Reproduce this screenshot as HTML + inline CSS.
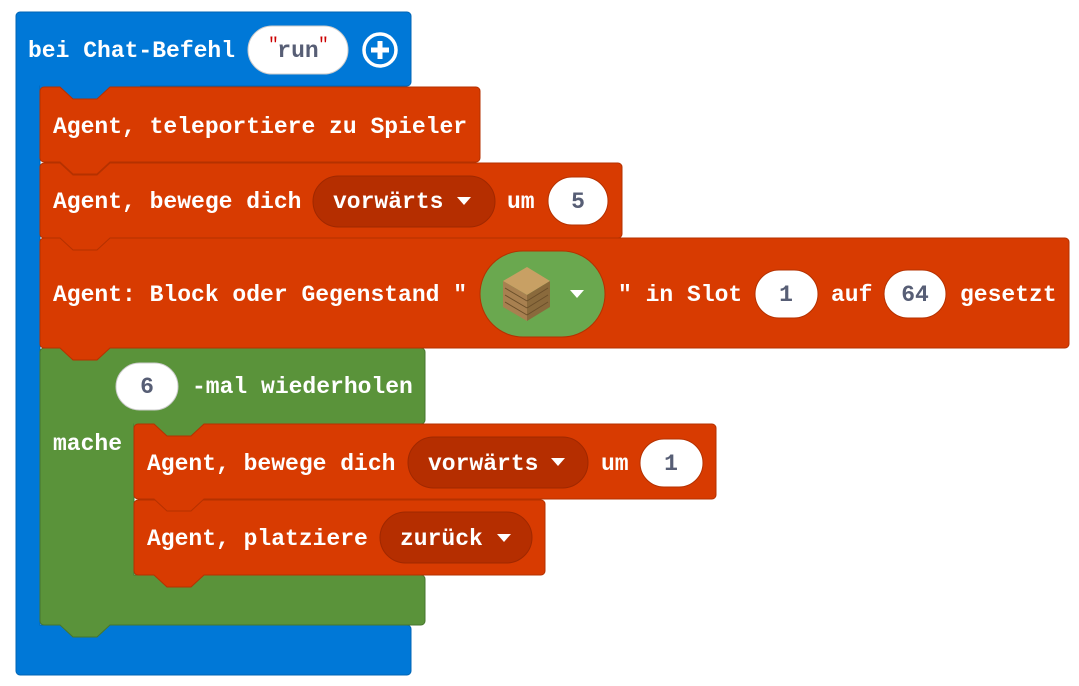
<!DOCTYPE html>
<html><head><meta charset="utf-8"><style>
html,body{margin:0;padding:0;background:#fff;}
svg{display:block}
text{font-family:"Liberation Mono",monospace;font-weight:bold;font-size:23px;fill:#fff;}
.n{fill:#575e75;text-anchor:middle}
</style></head><body>
<svg width="1079" height="686" viewBox="0 0 1079 686" xmlns="http://www.w3.org/2000/svg">
<!-- blue hat -->
<path d="M20 12 H407 a4 4 0 0 1 4 4 V82 a4 4 0 0 1 -4 4 H40 V625 H407 a4 4 0 0 1 4 4 V671 a4 4 0 0 1 -4 4 H20 a4 4 0 0 1 -4 -4 V16 a4 4 0 0 1 4 -4Z" fill="#0078d7" stroke="#0065b5" stroke-width="1"/>
<rect x="40" y="80" width="100" height="25" fill="#0078d7"/>
<text x="28" y="57">bei Chat-Befehl</text>
<rect x="248" y="26" width="100" height="48" rx="24" fill="#fff" stroke="#ccc"/>
<text x="298" y="57" class="n">run</text>
<text x="268" y="50" style="fill:#c00;font-size:18px;font-weight:normal">"</text>
<text x="318" y="50" style="fill:#c00;font-size:18px;font-weight:normal">"</text>
<circle cx="380" cy="50" r="16" fill="none" stroke="#fff" stroke-width="3.5"/>
<path d="M380 41 V59 M371 50 H389" stroke="#fff" stroke-width="5"/>

<!-- green loop -->
<path d="M44 348 H421 a4 4 0 0 1 4 4 V420 a4 4 0 0 1 -4 4 H134 V575 H421 a4 4 0 0 1 4 4 V621 a4 4 0 0 1 -4 4 H110 L97 637 H73 L60 625 H44 a4 4 0 0 1 -4 -4 V352 a4 4 0 0 1 4 -4Z" fill="#5a933a" stroke="#47762d"/>
<rect x="134" y="418" width="100" height="25" fill="#5a933a"/>
<rect x="116" y="363" width="62" height="47" rx="23.5" fill="#fff" stroke="#ccc"/>
<text x="147" y="393" class="n">6</text>
<text x="192" y="393">-mal wiederholen</text>
<text x="53" y="450">mache</text>

<!-- red3 -->
<path d="M44 238 H1065 a4 4 0 0 1 4 4 V344 a4 4 0 0 1 -4 4 H110 L97 360 H73 L60 348 H44 a4 4 0 0 1 -4 -4 V242 a4 4 0 0 1 4 -4Z" fill="#d83b01" stroke="#b53100"/>
<text x="53" y="301">Agent: Block oder Gegenstand "</text>
<rect x="480" y="251" width="125" height="86" rx="43" fill="#6aa84f" stroke="#b53100"/>
<polygon points="503,281 527,267 550,281 527,295" fill="#c8a064"/>
<polygon points="503,281 527,295 527,321 503,307" fill="#a88050"/>
<polygon points="527,295 550,281 550,307 527,321" fill="#8a6a3c"/>
<path d="M505 288 L527 301 M505 295 L527 308 M505 302 L527 315 M527 301 L548 288 M527 308 L548 295 M527 315 L548 302" stroke="#6b4f2a" stroke-width="1"/>
<polygon points="570,290 584,290 577,298" fill="#fff"/>
<text x="618" y="301">" in Slot</text>
<rect x="755" y="270" width="63" height="48" rx="24" fill="#fff" stroke="#b53100"/>
<text x="786" y="301" class="n">1</text>
<text x="831" y="301">auf</text>
<rect x="884" y="270" width="62" height="48" rx="24" fill="#fff" stroke="#b53100"/>
<text x="915" y="301" class="n">64</text>
<text x="960" y="301">gesetzt</text>

<!-- red2 -->
<path d="M44 163 H618 a4 4 0 0 1 4 4 V234 a4 4 0 0 1 -4 4 H110 L97 250 H73 L60 238 H44 a4 4 0 0 1 -4 -4 V167 a4 4 0 0 1 4 -4Z" fill="#d83b01" stroke="#b53100"/>
<text x="53" y="208">Agent, bewege dich</text>
<rect x="313" y="176" width="182" height="51" rx="25.5" fill="#b52e00" stroke="#a02800"/>
<text x="333" y="208">vorwärts</text>
<polygon points="457,197 471,197 464,205" fill="#fff"/>
<text x="507" y="208">um</text>
<rect x="548" y="177" width="60" height="48" rx="24" fill="#fff" stroke="#b53100"/>
<text x="578" y="208" class="n">5</text>

<!-- red1 -->
<path d="M44 87 H60 L73 99 H97 L110 87 H476 a4 4 0 0 1 4 4 V158 a4 4 0 0 1 -4 4 H110 L97 174 H73 L60 162 H44 a4 4 0 0 1 -4 -4 V91 a4 4 0 0 1 4 -4Z" fill="#d83b01" stroke="#b53100"/>
<text x="53" y="133">Agent, teleportiere zu Spieler</text>
<path d="M60 163 L73 175 H97 L110 163" fill="none" stroke="#b53100"/>

<!-- inner red2 -->
<path d="M138 500 H541 a4 4 0 0 1 4 4 V571 a4 4 0 0 1 -4 4 H204 L191 587 H167 L154 575 H138 a4 4 0 0 1 -4 -4 V504 a4 4 0 0 1 4 -4Z" fill="#d83b01" stroke="#b53100"/>
<text x="147" y="545">Agent, platziere</text>
<rect x="380" y="512" width="152" height="51" rx="25.5" fill="#b52e00" stroke="#a02800"/>
<text x="400" y="545">zurück</text>
<polygon points="497,534 511,534 504,542" fill="#fff"/>

<!-- inner red1 -->
<path d="M138 424 H154 L167 436 H191 L204 424 H712 a4 4 0 0 1 4 4 V495 a4 4 0 0 1 -4 4 H204 L191 511 H167 L154 499 H138 a4 4 0 0 1 -4 -4 V428 a4 4 0 0 1 4 -4Z" fill="#d83b01" stroke="#b53100"/>
<text x="147" y="470">Agent, bewege dich</text>
<rect x="408" y="437" width="180" height="51" rx="25.5" fill="#b52e00" stroke="#a02800"/>
<text x="428" y="470">vorwärts</text>
<polygon points="551,458 565,458 558,466" fill="#fff"/>
<text x="601" y="470">um</text>
<rect x="640" y="439" width="63" height="48" rx="24" fill="#fff" stroke="#b53100"/>
<text x="671" y="470" class="n">1</text>
</svg>
</body></html>
